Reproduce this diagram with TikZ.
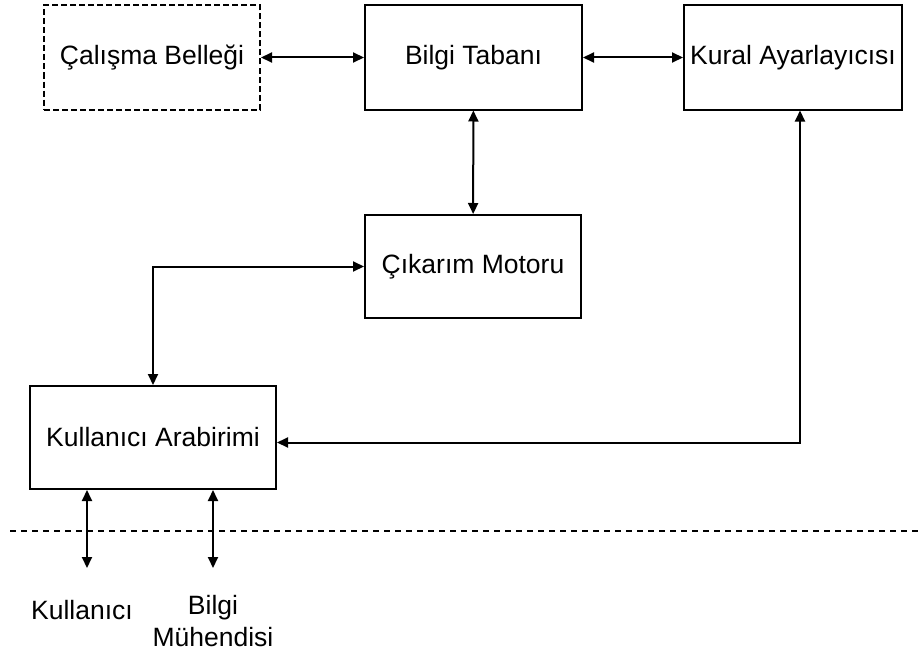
\documentclass[tikz,border=0pt]{standalone}
\usepackage{fontspec}
\setmainfont{Liberation Sans}
\usetikzlibrary{arrows.meta,calc}

\begin{document}
\begin{tikzpicture}[x=1pt, y=1pt, line width=2pt,
    kutu/.style={draw, minimum height=104pt, inner sep=0pt, font=\fontsize{26.5}{26.5}\selectfont},
    ok/.style={{Triangle[length=11pt,width=10pt]}-{Triangle[length=11pt,width=10pt]}},
    yazi/.style={align=center, font=\fontsize{26.5}{32}\selectfont}]
        \useasboundingbox (0,0) rectangle (923,-661);
        % kutular
        \node[kutu, dash pattern=on 6pt off 3pt, minimum width=216pt](bellek) at (152,-57.5){Çalışma Belleği};
        \node[kutu, minimum width=217pt](taban) at (473.5,-57.5){Bilgi Tabanı};
        \node[kutu, minimum width=218pt](kural) at (793,-57.5){Kural Ayarlayıcısı};
        \node[kutu, minimum width=216pt, minimum height=103pt](motor) at (473,-266.5){Çıkarım Motoru};
        \node[kutu, minimum width=246pt, minimum height=103pt](arayuz) at (153,-437.5){Kullanıcı Arabirimi};
        % oklar
        \path[draw, ok](bellek)to(taban);
        \path[draw, ok](taban)to(kural);
        \path[draw, ok](taban)to(motor);
        \coordinate(k)at(800,0);
        \path[draw, ok](kural.south -| k)|-([yshift=-5pt]arayuz.east);
        \path[draw, ok](arayuz.north)|-(motor.west);
        % sinir
        \coordinate(s1)at(10,-531);
        \coordinate(s2)at(923,-531);
        \path[draw, line width=1.5pt, dash pattern=on 6pt off 5pt](s1)to(s2);
        % kullanicilar
        \coordinate(u1)at(87,-568);
        \coordinate(u2)at(213,-568);
        \path[draw, ok](arayuz.south -| u1)to(u1);
        \path[draw, ok](arayuz.south -| u2)to(u2);
        \node[yazi](kullanici) at (82,-610){Kullanıcı};
        \node[yazi, anchor=north](muhendis) at (213,-591){Bilgi\\Mühendisi};
    \end{tikzpicture}
\end{document}
